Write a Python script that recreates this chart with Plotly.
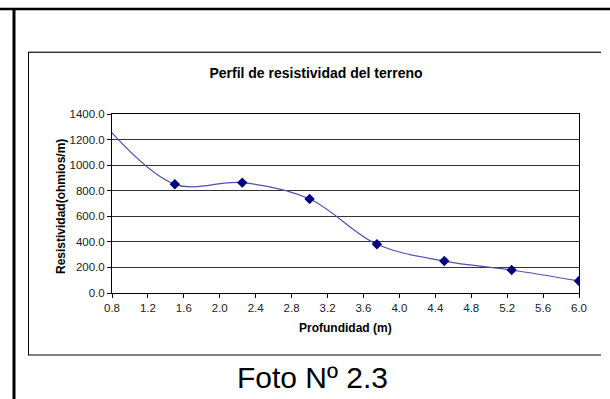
import plotly.graph_objects as go

# Resistivity profile: depth (m) vs resistivity (ohm/m)
profundidad = [0.75, 1.5, 2.25, 3.0, 3.75, 4.5, 5.25, 6.0]
resistividad = [1290.0, 850.0, 863.0, 735.0, 381.0, 250.0, 180.0, 94.0]

x_ticks = [0.8, 1.2, 1.6, 2.0, 2.4, 2.8, 3.2, 3.6, 4.0, 4.4, 4.8, 5.2, 5.6, 6.0]
y_ticks = [0, 200, 400, 600, 800, 1000, 1200, 1400]

W, H = 610, 399


def px_x(v):
    return v / W


def px_y(v):
    return 1 - v / H


fig = go.Figure()

# smoothed curve (clipped by the axis range at the left edge)
fig.add_trace(go.Scatter(
    x=profundidad, y=resistividad, mode="lines",
    line=dict(color="#5050b0", width=1.2, shape="spline", smoothing=1.0),
    hoverinfo="skip", showlegend=False,
))
# measured points
fig.add_trace(go.Scatter(
    x=profundidad[1:], y=resistividad[1:], mode="markers",
    marker=dict(symbol="diamond", size=8, color="#000080"),
    showlegend=False,
))

FAMILY = "Arial, Liberation Sans, sans-serif"
axis_font = dict(family=FAMILY, size=11.5, color="#222222")
label_font = dict(family=FAMILY, size=12, color="#000000")

fig.update_layout(
    width=W, height=H,
    margin=dict(l=0, r=0, t=0, b=0),
    paper_bgcolor="white", plot_bgcolor="white",
    font=axis_font,
    title=dict(
        text="<b>Perfil de resistividad del terreno</b>",
        x=px_x(316), y=px_y(73), xanchor="center", yanchor="middle",
        font=dict(family=FAMILY, size=14, color="#000000"),
    ),
    xaxis=dict(
        domain=[px_x(112), px_x(579)],
        range=[0.8, 6.0], tickvals=x_ticks, tickformat=".1f",
        showgrid=False, zeroline=False, automargin=False,
        showline=True, linecolor="#000000", linewidth=1, mirror=True,
        ticks="outside", ticklen=4, tickcolor="#000000",
        tickfont=axis_font,
    ),
    yaxis=dict(
        domain=[px_y(293), px_y(114)],
        range=[0, 1400], tickvals=y_ticks, tickformat=".1f",
        showgrid=True, gridcolor="#333333", gridwidth=1, zeroline=False, automargin=False,
        showline=True, linecolor="#000000", linewidth=1, mirror=True,
        ticks="outside", ticklen=4, tickcolor="#000000",
        tickfont=axis_font,
    ),
)

# axis titles
fig.add_annotation(text="<b>Profundidad (m)</b>", xref="paper", yref="paper",
                   x=px_x(345), y=px_y(328), xanchor="center", yanchor="middle",
                   showarrow=False, font=label_font)
fig.add_annotation(text="<b>Resistividad(ohmios/m)</b>", xref="paper", yref="paper",
                   x=px_x(61), y=px_y(207), xanchor="center", yanchor="middle",
                   textangle=-90, showarrow=False, font=label_font)

shapes = []
# outer page frame
shapes.append(dict(type="line", xref="paper", yref="paper",
                   x0=0, x1=1, y0=px_y(9), y1=px_y(9),
                   line=dict(color="#000000", width=2.5)))
shapes.append(dict(type="line", xref="paper", yref="paper",
                   x0=px_x(14), x1=px_x(14), y0=px_y(8), y1=0,
                   line=dict(color="#000000", width=3)))
# chart area border
shapes.append(dict(type="line", xref="paper", yref="paper",
                   x0=px_x(28), x1=px_x(601), y0=px_y(51.5), y1=px_y(51.5),
                   line=dict(color="#aaaaaa", width=1)))
shapes.append(dict(type="line", xref="paper", yref="paper",
                   x0=px_x(28), x1=px_x(601), y0=px_y(52.5), y1=px_y(52.5),
                   line=dict(color="#333333", width=1)))
shapes.append(dict(type="line", xref="paper", yref="paper",
                   x0=px_x(28.5), x1=px_x(28.5), y0=px_y(52), y1=px_y(355),
                   line=dict(color="#000000", width=1)))
shapes.append(dict(type="line", xref="paper", yref="paper",
                   x0=px_x(28), x1=px_x(601), y0=px_y(355), y1=px_y(355),
                   line=dict(color="#000000", width=1)))
fig.update_layout(shapes=shapes)

fig.add_annotation(
    text="Foto Nº 2.3", xref="paper", yref="paper",
    x=px_x(313), y=px_y(377), xanchor="center", yanchor="middle",
    showarrow=False,
    font=dict(family=FAMILY, size=30, color="#000000"),
)

fig.write_html("out.html")
